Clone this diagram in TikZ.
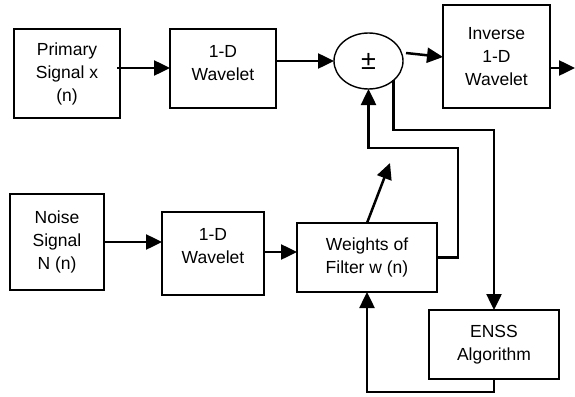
\documentclass[tikz,border=0pt]{standalone}
\usepackage{fontspec}
\setmainfont{Liberation Sans}
\usetikzlibrary{arrows.meta,calc,shapes.geometric}
\begin{document}
\begin{tikzpicture}[x=1pt,y=-1pt,
  box/.style={draw,line width=1.7pt,inner sep=0pt,outer sep=0pt,align=center,font=\fontsize{17.5}{23}\selectfont},
  txt/.style={inner sep=0pt,align=center,font=\fontsize{17.5}{23}\selectfont},
  arr/.style={line width=2.5pt,-{Triangle[length=16pt,width=15pt]}},
  ln/.style={line width=2.5pt}]
\useasboundingbox (0,0) rectangle (575,396);
% boxes
\node[box,minimum width=106pt,minimum height=89pt] (prim) at (67,73.5) {Primary\\Signal x\\(n)};
\node[box,minimum width=106pt,minimum height=79pt] (w1) at (223,68.5) {};
\node[txt] (w1t) at (223,63.5) {1-D\\Wavelet};
\node[draw,ellipse,line width=1.4pt,inner sep=0pt,outer sep=0pt,minimum width=69pt,minimum height=56pt,font=\fontsize{27}{27}\selectfont] (sum) at (368.5,61) {±};
\node[box,minimum width=107pt,minimum height=103pt] (inv) at (496.5,56.5) {Inverse\\1-D\\Wavelet};
\node[box,minimum width=94pt,minimum height=96pt] (noise) at (57,242) {Noise\\Signal\\N (n)};
\node[box,minimum width=102pt,minimum height=83pt] (w2) at (213,253.5) {};
\node[txt] (w2t) at (213,246) {1-D\\Wavelet};
\node[box,minimum width=140pt,minimum height=69pt] (wts) at (367,257.5) {Weights of\\Filter w (n)};
\node[box,minimum width=130pt,minimum height=69pt] (enss) at (494,344.5) {ENSS\\Algorithm};
% connectors
\draw[arr] ($(prim.east)+(-3,-5.5)$) -- ($(w1.west)+(0,-0.5)$);
\draw[arr] (w1.east |- sum.west) -- (sum.west);
\draw[arr] ($(sum.east)+(3,-8)$) -- ($(inv.west)+(0,0.5)$);
\coordinate (out) at (575,68);
\draw[arr] (inv.east |- out) -- (out);
\draw[arr] (noise.east) -- (noise.east -| w2.west);
\draw[arr] ($(w2.east)+(0,-1.5)$) -- ($(w2.east -| wts.west)+(0,-1.5)$);
\coordinate (k) at (368.5,148);
\draw[arr] (wts.east) -- ++(21,0) |- (k) -- (sum.south);
\coordinate (dg) at (390,163);
\draw[arr] (wts.north) -- (dg);
\draw[arr] (sum.-38) |- ($(enss.north)+(0,-180)$) -- (enss.north);
\draw[arr] (enss.south) -- ++(0,13) -| (wts.south);
\end{tikzpicture}
\end{document}
